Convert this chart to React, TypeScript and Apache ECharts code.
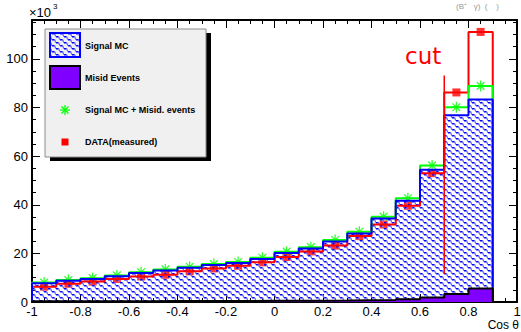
import React, { useEffect, useRef } from "react";
import * as echarts from "echarts";

// ---- data (values in units of 10^3 events), 19 bins of width 0.1 from -1 to 0.9
const BIN_MIN = -1;
const BIN_WIDTH = 0.1;
const signalMC = [7.7, 8.7, 9.5, 10.6, 11.9, 13.0, 14.1, 15.2, 16.0, 17.7, 20.2, 22.0, 24.9, 28.2, 34.3, 41.6, 54.4, 76.8, 83.3];
const misidEvents = [0.3, 0.3, 0.3, 0.35, 0.35, 0.4, 0.4, 0.4, 0.45, 0.5, 0.5, 0.55, 0.6, 0.7, 0.8, 1.1, 1.8, 3.3, 5.6];
const dataMeasured = [6.3, 7.5, 8.4, 9.5, 10.5, 11.2, 12.6, 13.8, 14.9, 16.3, 18.5, 20.8, 23.2, 27.1, 31.9, 39.6, 53.0, 86.2, 111.1];
const CUT_X = 0.7;
const CUT_RANGE = [11.6, 93.2];
const X_MIN = -1;
const X_MAX = 1;
const Y_MAX = 116;

const signalPlusMisid = signalMC.map((v, i) => +(v + misidEvents[i]).toFixed(3));

const edge = (i: number) => +(BIN_MIN + i * BIN_WIDTH).toFixed(4);
const center = (i: number) => +(BIN_MIN + (i + 0.5) * BIN_WIDTH).toFixed(4);

function stepPoints(vals: number[]) {
  const pts: number[][] = [[edge(0), 0]];
  vals.forEach((v, i) => pts.push([edge(i), v]));
  pts.push([edge(vals.length), vals[vals.length - 1]]);
  pts.push([edge(vals.length), 0]);
  return pts;
}

function makeHatchCanvas() {
  const W = 8;
  const H = 6;
  const c = document.createElement("canvas");
  c.width = W;
  c.height = H;
  const g = c.getContext("2d")!;
  g.lineWidth = 1.4;
  for (const dy of [-H, 0, H]) {
    g.strokeStyle = "#0000ff";
    g.beginPath();
    g.moveTo(0, 0.7 + dy);
    g.lineTo(2.6, 0.7 + dy);
    g.moveTo(4, 3.7 + dy);
    g.lineTo(6.6, 3.7 + dy);
    g.stroke();
    g.strokeStyle = "#6f6fff";
    g.beginPath();
    g.moveTo(2.6, 0.7 + dy);
    g.lineTo(4, 3.7 + dy);
    g.moveTo(6.6, 3.7 + dy);
    g.lineTo(8, 6.7 + dy);
    g.stroke();
  }
  return c;
}

const STAR = "path://M0 5L10 5M5 0L5 10M1.5 1.5L8.5 8.5M8.5 1.5L1.5 8.5";
const FONT = "Liberation Sans";

function starLines(cx: number, cy: number, r: number) {
  const d = r * 0.7;
  const segs = [
    [cx - r, cy, cx + r, cy],
    [cx, cy - r, cx, cy + r],
    [cx - d, cy - d, cx + d, cy + d],
    [cx + d, cy - d, cx - d, cy + d],
  ];
  return segs.map((s) => ({
    type: "line",
    shape: { x1: s[0], y1: s[1], x2: s[2], y2: s[3] },
    style: { stroke: "#00ff00", lineWidth: 1.3 },
    z: 10,
  }));
}

function txt(x: number, y: number, text: string, extra: any = {}) {
  return {
    type: "text",
    x,
    y,
    z: 10,
    style: {
      text,
      fill: "#000",
      fontFamily: FONT,
      fontSize: 9,
      fontWeight: "bold",
      align: "left",
      textAlign: "left",
      verticalAlign: "middle",
      textVerticalAlign: "middle",
      ...extra,
    },
  };
}

export default function App() {
  const ref = useRef<HTMLDivElement>(null);
  useEffect(() => {
    if (!ref.current) return;
    const chart = echarts.init(ref.current, null, { renderer: "svg" });
    const hatch: any = { image: makeHatchCanvas(), repeat: "repeat", imageWidth: 8, imageHeight: 6 };

    const baseX = {
      type: "value",
      min: X_MIN,
      max: X_MAX,
      interval: 0.2,
      splitLine: { show: false },
      axisLine: { show: true, onZero: false, lineStyle: { color: "#000", width: 2 } },
      axisTick: { show: true, inside: true, length: 8, lineStyle: { color: "#000", width: 1 } },
      minorTick: { show: true, splitNumber: 4, length: 4, lineStyle: { color: "#000", width: 1 } },
    };
    const baseY = {
      type: "value",
      min: 0,
      max: Y_MAX,
      splitLine: { show: false },
    };
    const yLine = { show: true, onZero: false, lineStyle: { color: "#000", width: 2 } };
    const yNoLine = { show: false, onZero: false };

    const option: any = {
      animation: false,
      backgroundColor: "#ffffff",
      textStyle: { fontFamily: FONT },
      grid: { left: 32, right: 4, top: 20, bottom: 30, containLabel: false, outerBoundsMode: "none" },
      xAxis: [
        {
          ...baseX,
          position: "bottom",
          axisLabel: { show: true, color: "#000", fontSize: 13, fontFamily: FONT, margin: 3 },
        },
        { ...baseX, position: "top", axisLabel: { show: false } },
      ],
      yAxis: [
        {
          ...baseY,
          interval: 20,
          position: "left",
          axisLine: yLine,
          axisTick: { show: true, inside: true, length: 8, lineStyle: { color: "#000", width: 1 } },
          axisLabel: {
            show: true,
            color: "#000",
            fontSize: 13,
            fontFamily: FONT,
            margin: 4,
            formatter: (v: number) => (v % 20 === 0 ? String(v) : ""),
          },
        },
        {
          ...baseY,
          interval: 5,
          position: "left",
          axisLine: yNoLine,
          axisTick: { show: true, inside: true, length: 4, lineStyle: { color: "#000", width: 1 } },
          axisLabel: { show: false },
        },
        {
          ...baseY,
          interval: 20,
          position: "right",
          axisLine: yLine,
          axisTick: { show: true, inside: true, length: 8, lineStyle: { color: "#000", width: 1 } },
          axisLabel: { show: false },
        },
        {
          ...baseY,
          interval: 5,
          position: "right",
          axisLine: yNoLine,
          axisTick: { show: true, inside: true, length: 4, lineStyle: { color: "#000", width: 1 } },
          axisLabel: { show: false },
        },
      ],
      series: [
        {
          type: "line",
          name: "DATA outline",
          data: stepPoints(dataMeasured),
          step: "end",
          symbol: "none",
          silent: true,
          lineStyle: { color: "#ff0000", width: 2 },
        },
        {
          type: "line",
          name: "Signal MC + Misid. events",
          data: stepPoints(signalPlusMisid),
          step: "end",
          symbol: "none",
          silent: true,
          lineStyle: { color: "#00ff00", width: 2 },
        },
        {
          type: "line",
          name: "Signal MC",
          data: stepPoints(signalMC),
          step: "end",
          symbol: "none",
          silent: true,
          lineStyle: { color: "#0000ff", width: 2 },
          areaStyle: { color: hatch, opacity: 1 },
        },
        {
          type: "line",
          name: "Misid Events",
          data: stepPoints(misidEvents),
          step: "end",
          symbol: "none",
          silent: true,
          lineStyle: { color: "#000000", width: 2 },
          areaStyle: { color: "#8000ff", opacity: 1 },
        },
        {
          type: "line",
          name: "cut",
          data: [
            [CUT_X, CUT_RANGE[0]],
            [CUT_X, CUT_RANGE[1]],
          ],
          symbol: "none",
          silent: true,
          lineStyle: { color: "#ff0000", width: 1.5 },
        },
        {
          type: "scatter",
          name: "Signal MC + Misid. events markers",
          data: signalPlusMisid.map((v, i) => [center(i), v]),
          symbol: STAR,
          symbolSize: 11,
          silent: true,
          itemStyle: { color: "rgba(0,0,0,0)", borderColor: "#00ff00", borderWidth: 1.3 },
        },
        {
          type: "scatter",
          name: "DATA(measured)",
          data: dataMeasured.map((v, i) => [center(i), v]),
          symbol: "rect",
          symbolSize: 8,
          silent: true,
          itemStyle: { color: "#ff0000" },
        },
      ],
      graphic: [
        // exponent label
        txt(29, 12, "×10", { fontSize: 13, fontWeight: "normal" }),
        txt(53, 6, "3", { fontSize: 8, fontWeight: "normal" }),
        // title fragment at top right
        txt(456, 6, "(B⁺   γ)  (    )", { fontSize: 8, fontWeight: "normal", fill: "#9a9a9a" }),
        // axis title
        txt(519, 325, "Cos θ", { fontSize: 12, fontWeight: "normal", align: "right", textAlign: "right" }),
        // cut label
        txt(405, 56, "cut", { fontSize: 23, fontWeight: "normal", fontFamily: "DejaVu Sans", fill: "#ff0000" }),
        // legend box
        { type: "rect", z: 9, shape: { x: 50, y: 33, width: 161, height: 128 }, style: { fill: "#000" } },
        { type: "rect", z: 9, shape: { x: 45, y: 29, width: 161, height: 128 }, style: { fill: "#f0f0f0", stroke: "#8c8c8c", lineWidth: 1 } },
        { type: "rect", z: 10, shape: { x: 50, y: 33, width: 30, height: 24 }, style: { fill: hatch, stroke: "#0000ff", lineWidth: 2 } },
        { type: "rect", z: 10, shape: { x: 50, y: 66, width: 30, height: 23 }, style: { fill: "#8000ff", stroke: "#000", lineWidth: 2 } },
        ...starLines(65, 110, 5),
        { type: "rect", z: 10, shape: { x: 61.5, y: 138.5, width: 7, height: 7 }, style: { fill: "#ff0000" } },
        txt(85, 46, "Signal MC"),
        txt(85, 78, "Misid Events"),
        txt(85, 110, "Signal MC + Misid. events"),
        txt(85, 142, "DATA(measured)"),
      ],
    };
    chart.setOption(option);
    return () => chart.dispose();
  }, []);
  return <div ref={ref} style={{ position: "absolute", left: 0, top: 0, width: 521, height: 332, background: "#fff" }} />;
}
